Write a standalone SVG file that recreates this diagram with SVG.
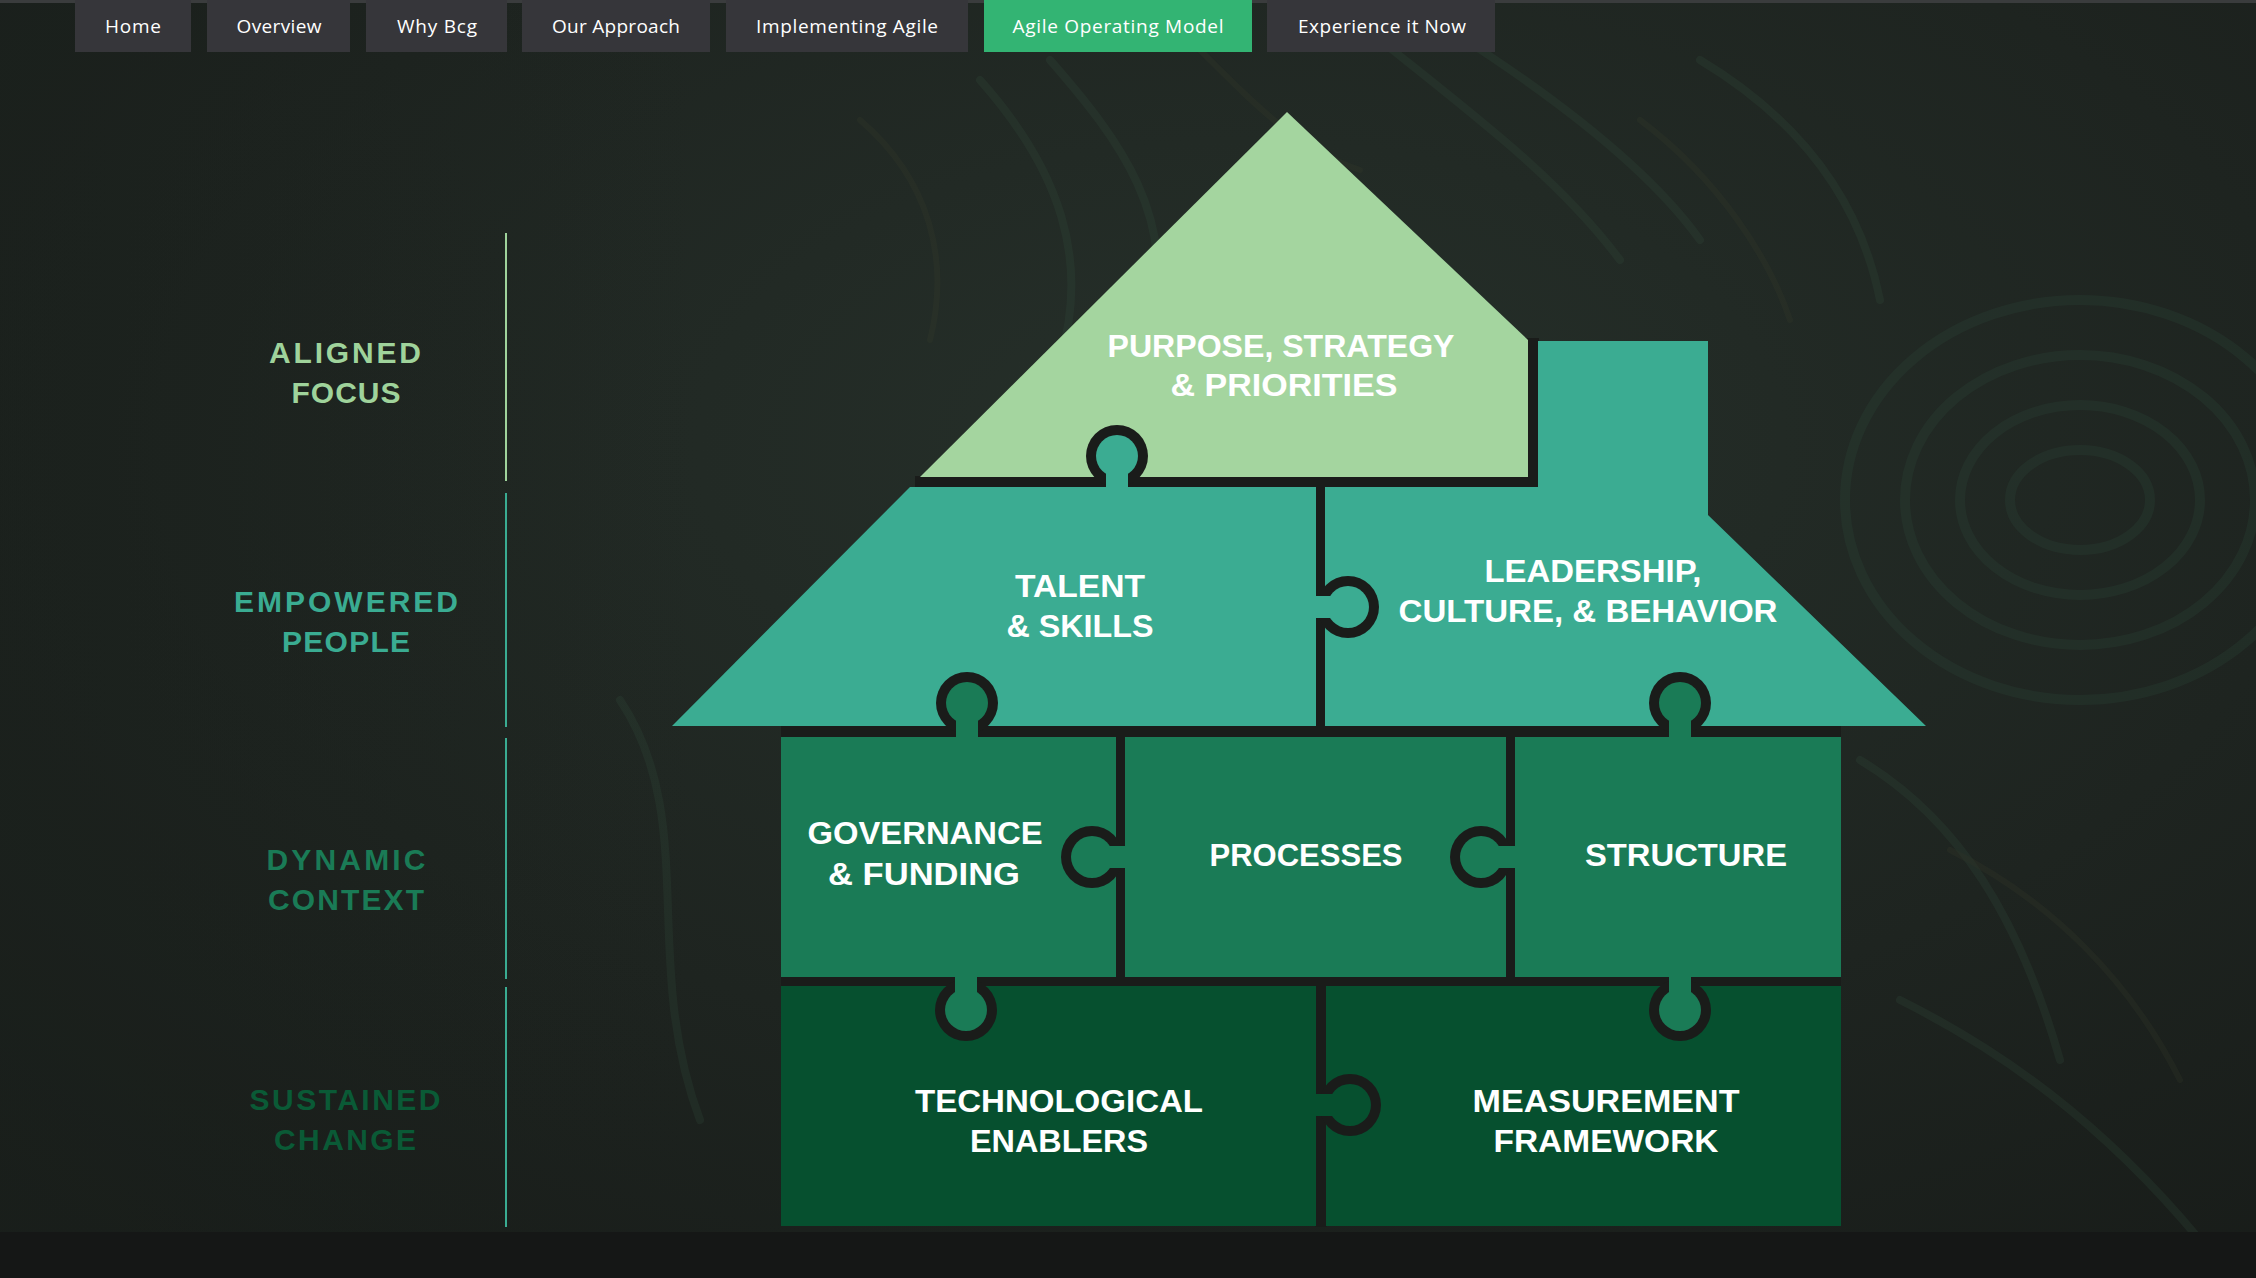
<svg xmlns="http://www.w3.org/2000/svg" width="2256" height="1278" viewBox="0 0 2256 1278">
  <defs>
    <radialGradient id="bgGlow" cx="0.55" cy="0.35" r="0.8">
      <stop offset="0" stop-color="#26302a"/>
      <stop offset="0.6" stop-color="#1e2420"/>
      <stop offset="1" stop-color="#181c19"/>
    </radialGradient>
    <linearGradient id="leftShade" x1="0" y1="0" x2="1" y2="0">
      <stop offset="0" stop-color="#1a201c" stop-opacity="0.6"/>
      <stop offset="1" stop-color="#1a201c" stop-opacity="0"/>
    </linearGradient>
    <style>
      .navbtn { fill: #36363a; }
      .navbtn.active { fill: #33b473; }
      .navtxt { font-family: "Open Sans", "Liberation Sans", sans-serif; font-size: 19px; fill: #ffffff; text-anchor: middle; }
      .swirl { fill: none; stroke-linecap: round; }
      .seam { fill: #1a1c1a; }
      .piece-lt { fill: #a4d59f; }
      .piece-teal { fill: #3bac92; }
      .piece-mid { fill: #1a7b56; }
      .piece-dk { fill: #06502f; }
      .ring { fill: #1a1c1a; }
      .lbl { font-family: "Liberation Sans", "Open Sans", sans-serif; font-weight: 700; font-size: 32px; fill: #ffffff; text-anchor: middle; }
      .side { font-family: "Liberation Sans", "DejaVu Sans", sans-serif; font-weight: 700; font-size: 30px; text-anchor: middle; }
      .rule { stroke-width: 2; }
    </style>
  </defs>

  <!-- backdrop -->
  <rect x="0" y="0" width="2256" height="1278" fill="url(#bgGlow)"/>
  <rect x="0" y="0" width="700" height="1278" fill="url(#leftShade)"/>
  <g id="texture" opacity="0.5">
    <g class="swirl" stroke="#2d4a3b" stroke-width="10" opacity="0.5">
      <ellipse cx="2080" cy="500" rx="70" ry="50"/>
      <ellipse cx="2080" cy="500" rx="120" ry="95"/>
      <ellipse cx="2080" cy="500" rx="175" ry="145"/>
      <ellipse cx="2080" cy="500" rx="235" ry="200"/>
    </g>
    <g class="swirl" stroke="#34503f" stroke-width="8" opacity="0.45">
      <path d="M1050 60 C1120 140 1180 220 1150 330"/>
      <path d="M980 80 C1060 170 1090 260 1060 360"/>
      <path d="M1380 40 C1480 120 1560 180 1620 260"/>
      <path d="M1450 30 C1560 100 1650 170 1700 240"/>
      <path d="M1700 60 C1800 120 1860 200 1880 300"/>
      <path d="M620 700 C700 820 640 960 700 1120"/>
      <path d="M1860 760 C1960 820 2020 920 2060 1060"/>
      <path d="M1900 1000 C2000 1050 2100 1120 2200 1240"/>
    </g>
    <g class="swirl" stroke="#3a3f2c" stroke-width="6" opacity="0.45">
      <path d="M1200 50 C1260 110 1300 150 1360 170"/>
      <path d="M860 120 C930 180 950 260 930 340"/>
      <path d="M1640 120 C1720 180 1770 260 1790 320"/>
      <path d="M1950 850 C2050 900 2130 980 2180 1080"/>
    </g>
  </g>
  <rect x="0" y="1232" width="2256" height="46" fill="#151716"/>

  <!-- navigation bar -->
  <g id="nav">
    <rect x="0" y="0" width="2256" height="3" fill="#3a3c3d"/>
    <g id="nav-home"><rect class="navbtn" x="75" y="0" width="116" height="52"/><text class="navtxt" x="133" y="33" textLength="56">Home</text></g>
    <g id="nav-overview"><rect class="navbtn" x="207" y="0" width="143" height="52"/><text class="navtxt" x="279" y="33" textLength="85">Overview</text></g>
    <g id="nav-why"><rect class="navbtn" x="366" y="0" width="141" height="52"/><text class="navtxt" x="437" y="33" textLength="80">Why Bcg</text></g>
    <g id="nav-approach"><rect class="navbtn" x="522" y="0" width="188" height="52"/><text class="navtxt" x="616" y="33" textLength="128">Our Approach</text></g>
    <g id="nav-implementing"><rect class="navbtn" x="726" y="0" width="242" height="52"/><text class="navtxt" x="847" y="33" textLength="182">Implementing Agile</text></g>
    <g id="nav-model"><rect class="navbtn active" x="984" y="0" width="268" height="52"/><text class="navtxt" x="1118" y="33" textLength="211">Agile Operating Model</text></g>
    <g id="nav-experience"><rect class="navbtn" x="1267" y="0" width="228" height="52"/><text class="navtxt" x="1382" y="33" textLength="168">Experience it Now</text></g>
  </g>

  <!-- row labels with divider rules -->
  <g id="row-aligned">
    <line class="rule" x1="506" y1="233" x2="506" y2="481" stroke="#9fd39b"/>
    <text class="side" fill="#9fd39b" x="345" y="363" textLength="152">ALIGNED</text>
    <text class="side" fill="#9fd39b" x="346" y="403" textLength="109">FOCUS</text>
  </g>
  <g id="row-empowered">
    <line class="rule" x1="506" y1="493" x2="506" y2="727" stroke="#3aac92"/>
    <text class="side" fill="#3aac92" x="346" y="612" textLength="224">EMPOWERED</text>
    <text class="side" fill="#3aac92" x="346" y="652" textLength="128">PEOPLE</text>
  </g>
  <g id="row-dynamic">
    <line class="rule" x1="506" y1="738" x2="506" y2="979" stroke="#3aac92"/>
    <text class="side" fill="#1a7b56" x="346" y="870" textLength="159">DYNAMIC</text>
    <text class="side" fill="#1a7b56" x="346" y="910" textLength="156">CONTEXT</text>
  </g>
  <g id="row-sustained">
    <line class="rule" x1="506" y1="987" x2="506" y2="1227" stroke="#3aac92"/>
    <text class="side" fill="#0a5a36" x="345" y="1110" textLength="191">SUSTAINED</text>
    <text class="side" fill="#0a5a36" x="345" y="1150" textLength="142">CHANGE</text>
  </g>

  <!-- gaps between the puzzle pieces -->
  <g id="seams">
    <rect class="seam" x="915" y="476" width="624" height="12"/>
    <rect class="seam" x="1527" y="338" width="12" height="150"/>
    <rect class="seam" x="1315" y="486" width="11" height="241"/>
    <rect class="seam" x="781" y="725" width="1060" height="13"/>
    <rect class="seam" x="1115" y="737" width="11" height="241"/>
    <rect class="seam" x="1505" y="737" width="11" height="241"/>
    <rect class="seam" x="781" y="976" width="1060" height="11"/>
    <rect class="seam" x="1315" y="986" width="12" height="241"/>
  </g>

  <!-- puzzle pieces -->
  <g id="purpose">
    <polygon class="piece-lt" points="1287,112 1528,340 1528,477 920,477"/>
    <text class="lbl" x="1281" y="357" textLength="347" lengthAdjust="spacingAndGlyphs">PURPOSE, STRATEGY</text>
    <text class="lbl" x="1284" y="396" textLength="227" lengthAdjust="spacingAndGlyphs">&amp; PRIORITIES</text>
  </g>
  <g id="talent">
    <polygon class="piece-teal" points="910,487 1316,487 1316,726 672,726"/>
    <text class="lbl" x="1080" y="597" textLength="130" lengthAdjust="spacingAndGlyphs">TALENT</text>
    <text class="lbl" x="1080" y="637" textLength="147" lengthAdjust="spacingAndGlyphs">&amp; SKILLS</text>
  </g>
  <g id="leadership">
    <polygon class="piece-teal" points="1325,487 1538,487 1538,341 1708,341 1708,515 1926,726 1325,726"/>
    <text class="lbl" x="1593" y="582" textLength="217" lengthAdjust="spacingAndGlyphs">LEADERSHIP,</text>
    <text class="lbl" x="1588" y="622" textLength="379" lengthAdjust="spacingAndGlyphs">CULTURE, &amp; BEHAVIOR</text>
  </g>
  <g id="governance">
    <rect class="piece-mid" x="781" y="737" width="335" height="240"/>
    <text class="lbl" x="925" y="844" textLength="235" lengthAdjust="spacingAndGlyphs">GOVERNANCE</text>
    <text class="lbl" x="924" y="885" textLength="192" lengthAdjust="spacingAndGlyphs">&amp; FUNDING</text>
  </g>
  <g id="processes">
    <rect class="piece-mid" x="1125" y="737" width="381" height="240"/>
    <text class="lbl" x="1306" y="866" textLength="193" lengthAdjust="spacingAndGlyphs">PROCESSES</text>
  </g>
  <g id="structure">
    <rect class="piece-mid" x="1515" y="737" width="326" height="240"/>
    <text class="lbl" x="1686" y="866" textLength="202" lengthAdjust="spacingAndGlyphs">STRUCTURE</text>
  </g>
  <g id="technology">
    <rect class="piece-dk" x="781" y="986" width="535" height="240"/>
    <text class="lbl" x="1059" y="1112" textLength="288" lengthAdjust="spacingAndGlyphs">TECHNOLOGICAL</text>
    <text class="lbl" x="1059" y="1152" textLength="178" lengthAdjust="spacingAndGlyphs">ENABLERS</text>
  </g>
  <g id="measurement">
    <rect class="piece-dk" x="1326" y="986" width="515" height="240"/>
    <text class="lbl" x="1606" y="1112" textLength="267" lengthAdjust="spacingAndGlyphs">MEASUREMENT</text>
    <text class="lbl" x="1606" y="1152" textLength="225" lengthAdjust="spacingAndGlyphs">FRAMEWORK</text>
  </g>

  <!-- interlocking tabs: dark ring, tab body, neck into its own piece -->
  <g id="joints">
    <g id="tab-talent-up">
      <circle class="ring" cx="1117" cy="456" r="31"/>
      <circle class="piece-teal" cx="1117" cy="456" r="21"/>
      <rect class="piece-teal" x="1106" y="456" width="22" height="33"/>
    </g>
    <g id="tab-talent-side">
      <circle class="ring" cx="1348" cy="607" r="31"/>
      <circle class="piece-teal" cx="1348" cy="607" r="21"/>
      <rect class="piece-teal" x="1314" y="596" width="34" height="22"/>
    </g>
    <g id="tab-governance-up">
      <circle class="ring" cx="967" cy="703" r="31"/>
      <circle class="piece-mid" cx="967" cy="703" r="21"/>
      <rect class="piece-mid" x="956" y="703" width="22" height="36"/>
    </g>
    <g id="tab-structure-up">
      <circle class="ring" cx="1680" cy="703" r="31"/>
      <circle class="piece-mid" cx="1680" cy="703" r="21"/>
      <rect class="piece-mid" x="1669" y="703" width="22" height="36"/>
    </g>
    <g id="tab-processes-side">
      <circle class="ring" cx="1092" cy="857" r="31"/>
      <circle class="piece-mid" cx="1092" cy="857" r="21"/>
      <rect class="piece-mid" x="1092" y="846" width="35" height="22"/>
    </g>
    <g id="tab-structure-side">
      <circle class="ring" cx="1481" cy="857" r="31"/>
      <circle class="piece-mid" cx="1481" cy="857" r="21"/>
      <rect class="piece-mid" x="1481" y="846" width="36" height="22"/>
    </g>
    <g id="tab-governance-down">
      <circle class="ring" cx="966" cy="1010" r="31"/>
      <circle class="piece-mid" cx="966" cy="1010" r="21"/>
      <rect class="piece-mid" x="955" y="975" width="22" height="35"/>
    </g>
    <g id="tab-structure-down">
      <circle class="ring" cx="1680" cy="1010" r="31"/>
      <circle class="piece-mid" cx="1680" cy="1010" r="21"/>
      <rect class="piece-mid" x="1669" y="975" width="22" height="35"/>
    </g>
    <g id="tab-technology-side">
      <circle class="ring" cx="1350" cy="1105" r="31"/>
      <circle class="piece-dk" cx="1350" cy="1105" r="21"/>
      <rect class="piece-dk" x="1314" y="1094" width="36" height="22"/>
    </g>
  </g>
</svg>
